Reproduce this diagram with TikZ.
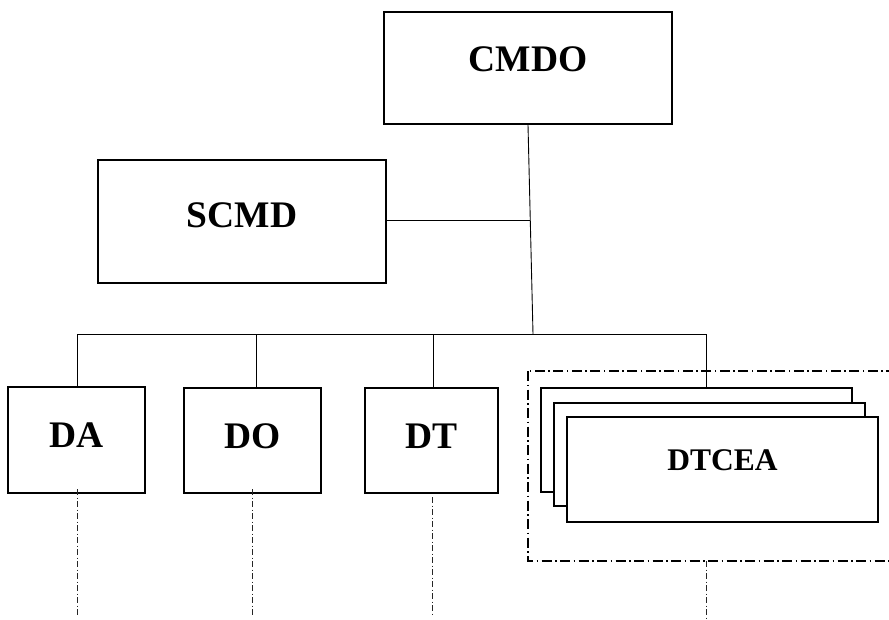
\documentclass[tikz,border=0pt]{standalone}
\usepackage{fontspec}
\setmainfont{Liberation Serif}
\begin{document}
\begin{tikzpicture}[x=1pt,y=-1pt,
  box/.style={draw, line width=1.6pt, rectangle, inner sep=0pt, fill=white,
    font=\bfseries\fontsize{37.5}{40}\selectfont, text height=24.8pt},
  link/.style={line width=0.9pt},
  group/.style={line width=1.2pt, dash pattern=on 10pt off 3.5pt on 1.5pt off 3.5pt},
  down/.style={line width=0.9pt, black!85, dash pattern=on 6pt off 2.5pt on 1pt off 2.5pt}]
\useasboundingbox (0,0) rectangle (889,619);

% boxes
\node[box, minimum width=288pt, minimum height=112pt, text depth=18pt] (CMDO) at (528,68) {CMDO};
\node[box, minimum width=288pt, minimum height=123pt, text depth=12pt] (SCMD) at (242,221.5) {SCMD};
\node[box, minimum width=137pt, minimum height=106pt, text depth=9pt] (DA) at (76.5,440) {DA};
\node[box, minimum width=137pt, minimum height=105pt, text depth=9pt] (DO) at (252.5,440.5) {DO};
\node[box, minimum width=133pt, minimum height=105pt, text depth=9pt] (DT) at (431.5,440.5) {DT};

% DTCEA group
\draw[group] (528,371) rectangle (892,561);
\node[box, minimum width=311pt, minimum height=104pt] (dt1) at (696.5,440) {};
\node[box, minimum width=311pt, minimum height=103pt] (dt2) at (709.5,454.5) {};
\node[box, minimum width=311pt, minimum height=105pt, font=\bfseries\fontsize{31.5}{34}\selectfont,
  text height=20.9pt, text depth=19pt] (dt3) at (722.5,469.5) {DTCEA};

% connectors
\coordinate (busL) at (77,334);
\coordinate (busR) at (706,334);
\coordinate (trunk) at (533,334);
\coordinate (sjoin) at (530.3,220);
\draw[link] (CMDO.south) -- (trunk);
\draw[link] (SCMD.east |- sjoin) -- (sjoin);
\draw[link] (busL) -- (busR);
\draw[link] (DA.north -| busL) -- (busL);
\draw[link] ([xshift=3.5pt]DO.north) -- ([xshift=3.5pt]DO.north |- busL);
\draw[link] ([xshift=1.5pt]DT.north) -- ([xshift=1.5pt]DT.north |- busL);
\draw[link] (busR |- dt1.north) -- (busR);

% continuation lines
\coordinate (endDA) at (77,616);
\coordinate (endDO) at (252,616);
\coordinate (endDT) at (432,616);
\coordinate (endDC) at (706,619);
\draw[down] (77,489) -- (endDA);
\draw[down] (252,489) -- (endDO);
\draw[down] (432,497) -- (endDT);
\draw[down] (706,561) -- (endDC);
\end{tikzpicture}
\end{document}
